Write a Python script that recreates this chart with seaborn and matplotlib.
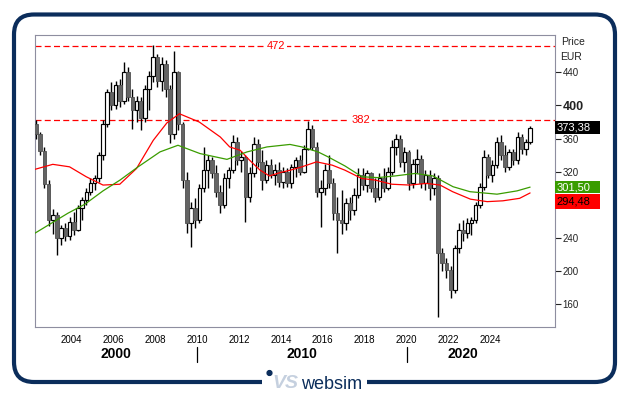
import numpy as np
import pandas as pd
import matplotlib
matplotlib.use('Agg')
import matplotlib.pyplot as plt
import matplotlib.transforms as mtransforms
from matplotlib.patches import FancyBboxPatch, Rectangle, Circle
import seaborn as sns

# candles (one candle every 0.2 year)
opens = [378, 365, 345, 305, 262, 268, 240, 252, 242, 260, 250, 276, 286, 296, 306, 312, 340, 378, 416, 400,
         425, 405, 440, 410, 395, 405, 385, 420, 436, 458, 430, 450, 420, 365, 440, 378, 310, 258, 276, 262,
         300, 322, 334, 318, 296, 280, 312, 322, 356, 334, 338, 290, 318, 354, 332, 310, 328, 316, 322, 308,
         320, 306, 326, 334, 320, 348, 372, 350, 296, 300, 322, 306, 270, 262, 258, 282, 274, 292, 316, 304,
         318, 300, 290, 312, 300, 320, 350, 360, 332, 344, 306, 330, 336, 306, 316, 300, 312, 222, 210, 202,
         178, 228, 250, 246, 258, 262, 280, 302, 338, 316, 328, 356, 340, 326, 344, 334, 362, 348, 356]
highs = [382, 368, 350, 310, 275, 272, 256, 258, 265, 272, 280, 290, 300, 312, 316, 344, 382, 420, 428, 430,
         432, 452, 446, 420, 412, 410, 425, 442, 473, 462, 458, 455, 425, 466, 442, 380, 320, 284, 288, 305,
         350, 340, 338, 328, 304, 318, 326, 364, 362, 345, 340, 326, 362, 360, 346, 334, 336, 330, 332, 326,
         324, 330, 338, 340, 352, 381, 376, 356, 310, 330, 340, 312, 290, 298, 288, 290, 300, 324, 324, 322,
         320, 312, 318, 324, 326, 358, 366, 364, 350, 346, 336, 348, 340, 322, 322, 318, 316, 228, 216, 206,
         232, 258, 262, 264, 266, 284, 306, 346, 342, 334, 362, 364, 352, 348, 348, 368, 366, 360, 375]
lows = [360, 340, 300, 255, 245, 220, 232, 236, 238, 244, 248, 262, 280, 292, 298, 308, 334, 374, 395, 396,
        398, 402, 405, 372, 380, 370, 380, 395, 428, 422, 418, 410, 355, 360, 370, 300, 246, 229, 252, 258,
        296, 300, 312, 290, 270, 276, 300, 318, 328, 320, 259, 284, 314, 326, 298, 306, 312, 304, 302, 300,
        302, 300, 314, 316, 318, 346, 346, 290, 253, 292, 300, 262, 222, 245, 250, 262, 268, 288, 298, 296,
        296, 284, 286, 296, 298, 316, 340, 326, 320, 298, 300, 318, 300, 298, 286, 292, 145, 200, 192, 168,
        174, 222, 236, 240, 244, 258, 276, 298, 312, 308, 324, 334, 320, 322, 328, 330, 342, 340, 354]
closes = [365, 345, 305, 262, 268, 240, 252, 242, 260, 250, 276, 286, 296, 306, 312, 340, 378, 416, 400, 425,
          405, 440, 410, 395, 405, 385, 420, 436, 458, 430, 450, 420, 365, 440, 378, 310, 258, 276, 262, 300,
          322, 334, 318, 296, 280, 312, 322, 356, 334, 338, 290, 318, 354, 332, 310, 328, 316, 322, 308, 320,
          306, 326, 334, 320, 348, 372, 350, 296, 300, 322, 306, 270, 262, 258, 282, 274, 292, 316, 304, 318,
          300, 290, 312, 300, 320, 350, 360, 332, 344, 306, 330, 336, 306, 316, 300, 312, 222, 210, 202, 178,
          228, 250, 246, 258, 262, 280, 302, 338, 316, 328, 356, 340, 326, 344, 334, 362, 348, 356, 373.38]
dates = np.round(2002.3 + 0.2 * np.arange(len(closes)), 2)

# moving averages
red_years = [2002.25, 2003.1, 2003.9, 2004.7, 2005.5, 2006.3, 2007.1, 2007.9, 2008.55, 2009.15,
             2010.1, 2011.1, 2011.55, 2012.05, 2012.5, 2013.0, 2013.45, 2013.95, 2014.45, 2015.0,
             2015.7, 2016.45, 2017.05, 2017.85, 2018.5, 2019.3, 2020.15, 2020.95, 2021.6, 2022.2,
             2023.05, 2023.85, 2024.6, 2025.4, 2025.9]
red_vals = [323, 329, 326, 314, 304, 305, 324, 358, 379, 390, 380, 362, 350, 346, 334, 322, 315, 319, 322, 326,
            332, 328, 322, 312, 310, 305, 304, 306, 304, 296, 287, 284, 285, 288, 294.48]
green_years = [2002.25, 2003.82, 2004.64, 2005.5, 2006.31, 2007.12, 2008.22, 2009.08, 2010.13, 2011.42,
               2012.38, 2013.33, 2014.43, 2015.0, 2015.77, 2016.25, 2017.06, 2017.87, 2018.63, 2019.45,
               2020.4, 2021.26, 2022.22, 2023.03, 2024.32, 2025.28, 2025.9]
green_vals = [246, 270, 281, 297, 310, 325, 344, 352, 342, 335, 344, 350, 353, 350, 344, 338, 327, 314, 313, 315,
              318, 315, 302, 296, 293, 297, 301.50]

levels = [472, 382]
year_ticks = list(range(2004, 2025, 2))
price_ticks = [160, 200, 240, 280, 320, 360, 400, 440]
decades = ['2000', '2010', '2020']

NAVY = '#0b2d5b'
RED = '#ff0000'
GREEN = '#3a9c00'

sns.set_style('white')
plt.rcParams['font.family'] = ['Liberation Sans', 'DejaVu Sans']

fig = plt.figure(figsize=(6.29, 3.95), dpi=100)
ax = fig.add_axes([35 / 629, 1 - 327 / 395, 520 / 629, 292 / 395])

# candles
o = np.array(opens, dtype=float)
c = np.array(closes, dtype=float)
up = c >= o
ax.vlines(dates, lows, highs, color='black', lw=1.0, zorder=3)
body_lo = np.minimum(o, c)
body_h = np.maximum(np.abs(c - o), 0.8)
ax.bar(dates[up], body_h[up], bottom=body_lo[up], width=0.17, color='white',
       edgecolor='black', linewidth=0.85, zorder=4)
ax.bar(dates[~up], body_h[~up], bottom=body_lo[~up], width=0.17, color='#646464',
       edgecolor='#505050', linewidth=0.6, zorder=4)

# moving averages
ma = pd.concat([
    pd.DataFrame({'year': red_years, 'value': red_vals, 'ma': 'red'}),
    pd.DataFrame({'year': green_years, 'value': green_vals, 'ma': 'green'}),
])
sns.lineplot(data=ma, x='year', y='value', hue='ma', palette={'red': RED, 'green': GREEN},
             estimator=None, sort=False, lw=0.9, legend=False, ax=ax, zorder=5)

ax.set_xlim(2002.25, 2027.09)
ax.set_ylim(132.8, 485)

# horizontal levels
lvl_tr = mtransforms.blended_transform_factory(ax.transAxes, ax.transData)
for lv, xf in zip(levels, [0.463, 0.626]):
    ln = ax.axhline(lv, color=RED, lw=0.9, zorder=2)
    ln.set_dashes((4.8, 2.6))
    ax.text(xf, lv, str(lv), transform=lvl_tr, ha='center', va='center', color=RED, fontsize=8,
            bbox=dict(facecolor='white', edgecolor='none', pad=1.5), zorder=6)

for s in ax.spines.values():
    s.set_color('#8e8ea0')
    s.set_linewidth(0.8)

ax.set_xlabel('')
ax.set_ylabel('')
ax.set_xticks(year_ticks)
ax.set_xticklabels([str(y) for y in year_ticks])
ax.tick_params(axis='x', length=0, pad=6, labelsize=7, labelcolor='black')
ax.yaxis.tick_right()
ax.set_yticks(price_ticks)
ax.set_yticklabels([str(p) for p in price_ticks])
ax.tick_params(axis='y', right=True, left=False, length=4, width=0.8, pad=1.5,
               labelsize=7, labelcolor='#222222', color='#222222')
for lab in ax.get_yticklabels():
    if lab.get_text() == '400':
        lab.set_fontsize(9)
        lab.set_fontweight('bold')

# decade row
bt = mtransforms.blended_transform_factory(ax.transData, ax.transAxes)
dec_x = [(2002.25 + 2010) / 2, 2015.0, 2022.68]
for d, xc in zip(decades, dec_x):
    ax.text(xc, -0.0914, d, transform=bt, ha='center', va='center', fontsize=10,
            fontweight='bold', color='black')
for d in decades[1:]:
    ax.plot([int(d), int(d)], [-0.0695, -0.1209], transform=bt, color='black', lw=0.9, clip_on=False)

# right side labels
fig.text(561 / 629, 1 - 42 / 395, 'Price', fontsize=7.5, color='#222222', va='center')
fig.text(560 / 629, 1 - 57 / 395, 'EUR', fontsize=7.5, color='#222222', va='center')

# last value boxes (red box pushed below the green one, as in the original)
box_h = 14.8
tr = mtransforms.blended_transform_factory(fig.transFigure, ax.transData)
green_bottom = green_vals[-1] - box_h / 2
boxes = [
    (closes[-1] - box_h / 2, box_h, 'black', 'white', closes[-1]),
    (green_bottom, box_h, GREEN, 'white', green_vals[-1]),
    (green_bottom - 1.2 - 18.1, 18.1, RED, 'black', red_vals[-1]),
]
for y0, h, fc, tc, val in boxes:
    ax.add_artist(Rectangle((555 / 629, y0), 45 / 629, h, transform=tr,
                            facecolor=fc, edgecolor='none', clip_on=False, zorder=10))
    ax.text(556.5 / 629, y0 + h / 2, f'{val:.2f}'.replace('.', ','), transform=tr, ha='left',
            va='center', fontsize=8, color=tc, zorder=11, clip_on=False)

# outer rounded frame with logo
frame = FancyBboxPatch((0.14, (395 - 382) / 100), 6.01, (382 - 14.5) / 100,
                       boxstyle='round,pad=0,rounding_size=0.2', lw=3, edgecolor=NAVY,
                       facecolor='none', transform=fig.dpi_scale_trans)
fig.add_artist(frame)
fig.add_artist(Rectangle((2.62, 0.0), 1.05, 0.2, facecolor='white', edgecolor='none',
                         transform=fig.dpi_scale_trans, zorder=5))
fig.text(301 / 629, 1 - 389 / 395, 'websim', fontsize=13, color=NAVY, va='baseline', zorder=6)
fig.text(272 / 629, 1 - 388 / 395, 'VS', fontsize=14, color='#c5d0df', fontweight='bold',
         style='italic', va='baseline', zorder=6)
fig.add_artist(Circle((2.695, (395 - 373) / 100), 0.024, color=NAVY,
                      transform=fig.dpi_scale_trans, zorder=6))

fig.savefig('out.png', dpi=100, facecolor='white')
